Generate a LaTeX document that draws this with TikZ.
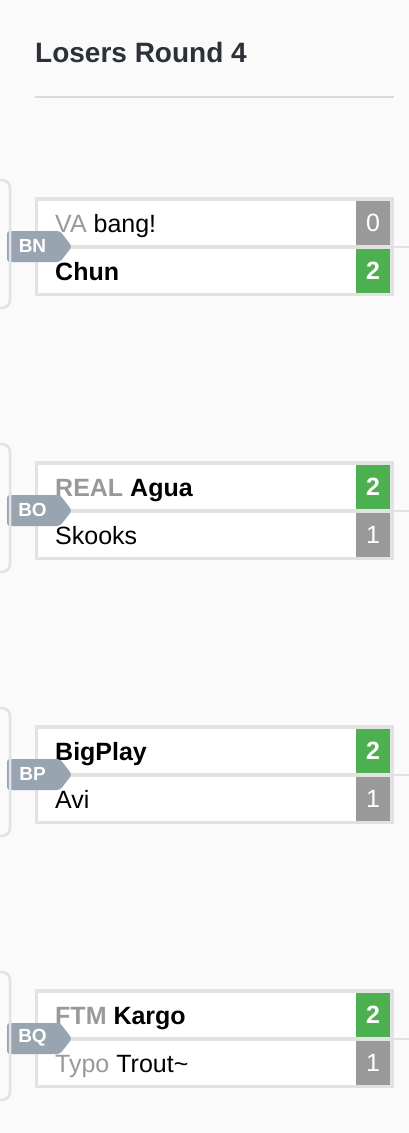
\documentclass[tikz,border=0pt]{standalone}
\usepackage{fontspec}
\setmainfont{Liberation Sans}
\usetikzlibrary{positioning}
\definecolor{pagebg}{HTML}{FAFAFA}
\definecolor{rim}{HTML}{E2E2E2}
\definecolor{losegray}{HTML}{999999}
\definecolor{wingreen}{HTML}{4CAF50}
\definecolor{tagslate}{HTML}{98A4B0}
\definecolor{headink}{HTML}{2C3137}
\definecolor{headrule}{HTML}{D6DBE2}
\newcommand{\clan}[1]{\textcolor{losegray}{#1}}
\tikzset{
  matchbox/.style={fill=rim, minimum width=359pt, minimum height=99pt, inner sep=0pt, outer sep=0pt},
  slot/.style={fill=white, minimum width=318pt, minimum height=44.5pt, inner sep=0pt, outer sep=0pt},
  player/.style={anchor=base west, inner sep=0pt, font=\fontsize{25}{25}\selectfont},
  win/.style={fill=wingreen, minimum width=34pt, minimum height=44.5pt, inner sep=0pt, outer sep=0pt, text=white, font=\fontsize{25}{25}\selectfont\bfseries},
  lose/.style={win, fill=losegray, font=\fontsize{25}{25}\selectfont},
  tagtext/.style={text=white, inner sep=0pt, font=\fontsize{19}{19}\selectfont\bfseries},
  tagshape/.style={fill=tagslate, rounded corners=3pt},
  link/.style={draw=rim, line width=2pt},
  feed/.style={draw=rim, line width=2.5pt, rounded corners=8pt}
}
\begin{document}
\begin{tikzpicture}[x=1pt, y=-1pt]
  \fill[pagebg] (0,0) rectangle (409,1133);
  \useasboundingbox (0,0) rectangle (409,1133);
  % heading
  \node[anchor=base west, inner sep=0pt, text=headink, font=\fontsize{28}{28}\selectfont\bfseries] (head) at (35,62) {Losers Round 4};
  \coordinate (ruleL) at (35,97);
  \coordinate (ruleR) at (394,97);
  \draw[headrule, line width=2pt] (ruleL) -- (ruleR);
  % BN
  \node[matchbox, anchor=north west] (m1) at (35,197) {};
  \node[slot, anchor=north west] (m1a) at ([shift={(3pt,-3.5pt)}]m1.north west) {};
  \node[slot, below=3.5pt of m1a] (m1b) {};
  \node[lose, right=0pt of m1a] (m1as) {0};
  \node[win, right=0pt of m1b] (m1bs) {2};
  \node[player] (m1an) at ([shift={(17pt,-9.5pt)}]m1a.west) {\clan{VA} bang!};
  \node[player] (m1bn) at ([shift={(17pt,-9.5pt)}]m1b.west) {\bfseries Chun};
  \fill[tagshape] ([shift={(-28pt,15.5pt)}]m1.west) -- ([shift={(25pt,15.5pt)}]m1.west) -- ([xshift=37pt]m1.west) -- ([shift={(25pt,-15.5pt)}]m1.west) -- ([shift={(-28pt,-15.5pt)}]m1.west) -- cycle;
  \node[tagtext] (tBN) at ([xshift=-2.5pt,yshift=0.5pt]m1.west) {BN};
  \node[right=15pt of m1.east, inner sep=0pt] (o1) {};
  \draw[link] (m1.east) -- (o1);
  \draw[feed] ([shift={(-35pt,66.5pt)}]m1.west) coordinate (f1a) -| ([xshift=-25pt]m1.west) |- ([shift={(-35pt,-61.5pt)}]m1.west) coordinate (f1b);
  % BO
  \node[matchbox, below=165pt of m1] (m2) {};
  \node[slot, anchor=north west] (m2a) at ([shift={(3pt,-3.5pt)}]m2.north west) {};
  \node[slot, below=3.5pt of m2a] (m2b) {};
  \node[win, right=0pt of m2a] (m2as) {2};
  \node[lose, right=0pt of m2b] (m2bs) {1};
  \node[player] (m2an) at ([shift={(17pt,-9.5pt)}]m2a.west) {\bfseries\clan{REAL} Agua};
  \node[player] (m2bn) at ([shift={(17pt,-9.5pt)}]m2b.west) {Skooks};
  \fill[tagshape] ([shift={(-28pt,15.5pt)}]m2.west) -- ([shift={(25pt,15.5pt)}]m2.west) -- ([xshift=37pt]m2.west) -- ([shift={(25pt,-15.5pt)}]m2.west) -- ([shift={(-28pt,-15.5pt)}]m2.west) -- cycle;
  \node[tagtext] (tBO) at ([xshift=-2.5pt,yshift=0.5pt]m2.west) {BO};
  \node[right=15pt of m2.east, inner sep=0pt] (o2) {};
  \draw[link] (m2.east) -- (o2);
  \draw[feed] ([shift={(-35pt,66.5pt)}]m2.west) coordinate (f2a) -| ([xshift=-25pt]m2.west) |- ([shift={(-35pt,-61.5pt)}]m2.west) coordinate (f2b);
  % BP
  \node[matchbox, below=165pt of m2] (m3) {};
  \node[slot, anchor=north west] (m3a) at ([shift={(3pt,-3.5pt)}]m3.north west) {};
  \node[slot, below=3.5pt of m3a] (m3b) {};
  \node[win, right=0pt of m3a] (m3as) {2};
  \node[lose, right=0pt of m3b] (m3bs) {1};
  \node[player] (m3an) at ([shift={(17pt,-9.5pt)}]m3a.west) {\bfseries BigPlay};
  \node[player] (m3bn) at ([shift={(17pt,-9.5pt)}]m3b.west) {Avi};
  \fill[tagshape] ([shift={(-28pt,15.5pt)}]m3.west) -- ([shift={(25pt,15.5pt)}]m3.west) -- ([xshift=37pt]m3.west) -- ([shift={(25pt,-15.5pt)}]m3.west) -- ([shift={(-28pt,-15.5pt)}]m3.west) -- cycle;
  \node[tagtext] (tBP) at ([xshift=-2.5pt,yshift=0.5pt]m3.west) {BP};
  \node[right=15pt of m3.east, inner sep=0pt] (o3) {};
  \draw[link] (m3.east) -- (o3);
  \draw[feed] ([shift={(-35pt,66.5pt)}]m3.west) coordinate (f3a) -| ([xshift=-25pt]m3.west) |- ([shift={(-35pt,-61.5pt)}]m3.west) coordinate (f3b);
  % BQ
  \node[matchbox, below=165pt of m3] (m4) {};
  \node[slot, anchor=north west] (m4a) at ([shift={(3pt,-3.5pt)}]m4.north west) {};
  \node[slot, below=3.5pt of m4a] (m4b) {};
  \node[win, right=0pt of m4a] (m4as) {2};
  \node[lose, right=0pt of m4b] (m4bs) {1};
  \node[player] (m4an) at ([shift={(17pt,-9.5pt)}]m4a.west) {\bfseries\clan{FTM} Kargo};
  \node[player] (m4bn) at ([shift={(17pt,-9.5pt)}]m4b.west) {\clan{Typo} Trout\textasciitilde};
  \fill[tagshape] ([shift={(-28pt,15.5pt)}]m4.west) -- ([shift={(25pt,15.5pt)}]m4.west) -- ([xshift=37pt]m4.west) -- ([shift={(25pt,-15.5pt)}]m4.west) -- ([shift={(-28pt,-15.5pt)}]m4.west) -- cycle;
  \node[tagtext] (tBQ) at ([xshift=-2.5pt,yshift=0.5pt]m4.west) {BQ};
  \node[right=15pt of m4.east, inner sep=0pt] (o4) {};
  \draw[link] (m4.east) -- (o4);
  \draw[feed] ([shift={(-35pt,66.5pt)}]m4.west) coordinate (f4a) -| ([xshift=-25pt]m4.west) |- ([shift={(-35pt,-61.5pt)}]m4.west) coordinate (f4b);
\end{tikzpicture}
\end{document}
